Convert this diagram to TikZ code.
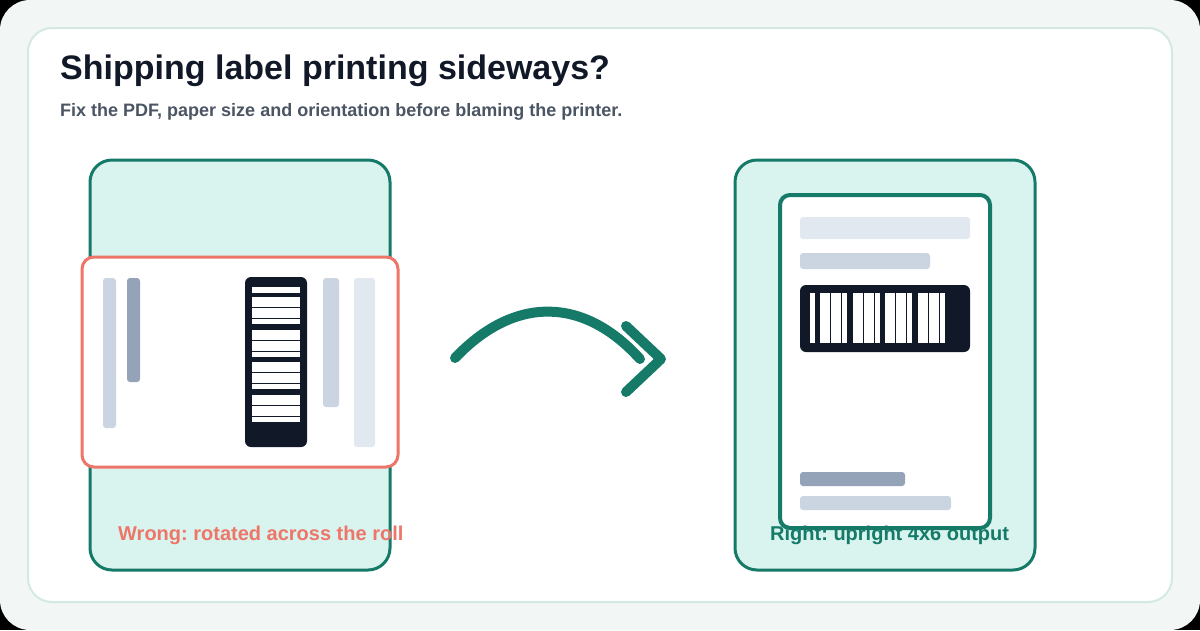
\documentclass[tikz,border=0pt]{standalone}
\usepackage{fontspec}
\setmainfont{Liberation Sans}
\usepackage{tikz}
\usetikzlibrary{positioning}
\frenchspacing

\definecolor{tealdk}{HTML}{167A69}
\definecolor{mintbg}{HTML}{D9F3EE}
\definecolor{wrongred}{HTML}{EE7668}
\definecolor{ink}{HTML}{111827}
\definecolor{slatea}{HTML}{E2E8F0}
\definecolor{slateb}{HTML}{CBD5E1}
\definecolor{slatec}{HTML}{94A3B8}
\definecolor{subgray}{HTML}{4B5563}
\definecolor{pagebg}{HTML}{F2F7F6}
\definecolor{cardline}{HTML}{D5E9E3}

\begin{document}
\begin{tikzpicture}[
  x=1pt, y=-1pt,
  lblbox/.style={anchor=north west, inner sep=0pt, outer sep=0pt, rounded corners=#1},
  panelbox/.style={lblbox=22pt, fill=mintbg, draw=tealdk, line width=3pt,
                minimum width=300, minimum height=410},
  linebar/.style={lblbox=3pt, fill=#1},
  stripefill/.style={fill=white},
  headtxt/.style={anchor=base west, inner sep=0pt},
  captxt/.style={anchor=base west, inner sep=0pt, font=\fontsize{20}{24}\selectfont\bfseries},
  arcline/.style={draw=tealdk, line width=10pt, line cap=round, line join=round},
]

%% ====================================================
%% Page and card
%% ====================================================
\fill[black] (0,0) rectangle (1200,630);
\fill[pagebg, rounded corners=30pt] (0,0) rectangle (1200,630);
\useasboundingbox (0,0) rectangle (1200,630);
\node[lblbox=24pt, fill=white, draw=cardline, line width=2pt,
      minimum width=1144, minimum height=574] (card) at (28,28) {};

\node[headtxt, text=ink, font=\fontsize{34}{40}\selectfont\bfseries]
  (title) at (60,79) {Shipping label printing sideways?};
\node[headtxt, text=subgray, font=\fontsize{18}{22}\selectfont\bfseries]
  (subtitle) at (60,116) {Fix the PDF, paper size and orientation before blaming the printer.};

%% ====================================================
%% Wrong: label rotated across the roll
%% ====================================================
\node[panelbox] (wrongpanel) at (90,160) {};
\node[lblbox=12pt, fill=white, draw=wrongred, line width=3pt,
      minimum width=316, minimum height=210] (wronglabel) at (82,257) {};

%% Text lines (now vertical)
\node[linebar=slateb, minimum width=13, minimum height=150] (wlineA) at (103,278) {};
\node[linebar=slatec, minimum width=13, minimum height=104] (wlineB) at (127,278) {};
\node[linebar=slateb, minimum width=16, minimum height=129] (wlineC) at (323,278) {};
\node[linebar=slatea, minimum width=21, minimum height=169] (wlineD) at (354,278) {};

%% Barcode (turned)
\node[lblbox=6pt, fill=ink, minimum width=62, minimum height=170] (wbarcode) at (245,277) {};
\fill[stripefill] (252,287) rectangle (300,293);
\foreach \g in {0,...,3} {
  \foreach \o/\w in {0/10,11/10,22/5} {
    \fill[stripefill] (252,{297+32.5*\g+\o}) rectangle (300,{297+32.5*\g+\o+\w});
  }
}

\node[captxt, text=wrongred] (wrongtxt) at (118,540) {Wrong: rotated across the roll};

%% ====================================================
%% Arrow
%% ====================================================
\coordinate (arcL) at (455,358);
\coordinate (arcR) at (640,359);
\coordinate (tipT) at (626,326);
\coordinate (tipM) at (661,359);
\coordinate (tipB) at (626,392);
\draw[arcline] (arcL) .. controls (516,294) and (585,298) .. (arcR);
\draw[arcline] (tipT) -- (tipM) -- (tipB);

%% ====================================================
%% Right: upright 4x6 output
%% ====================================================
\node[panelbox] (rightpanel) at (735,160) {};
\node[lblbox=10pt, fill=white, draw=tealdk, line width=4pt,
      minimum width=210, minimum height=333] (rightlabel) at (780,195) {};

\node[linebar=slatea, minimum width=170, minimum height=22] (rlineA) at (800,217) {};
\node[linebar=slateb, minimum width=130, minimum height=16] (rlineB) at (800,253) {};

%% Barcode (upright)
\node[lblbox=6pt, fill=ink, minimum width=170, minimum height=67] (rbarcode) at (800,285) {};
\fill[stripefill] (810,293) rectangle (815,343);
\foreach \g in {0,...,3} {
  \foreach \o/\w in {0/10,11/10,22/5} {
    \fill[stripefill] ({820+32.5*\g+\o},293) rectangle ({820+32.5*\g+\o+\w},343);
  }
}

\node[linebar=slatec, minimum width=105, minimum height=14] (rlineC) at (800,472) {};
\node[linebar=slateb, minimum width=151, minimum height=14] (rlineD) at (800,496) {};

\node[captxt, text=tealdk] (righttxt) at (770,540) {Right: upright 4x6 output};

\end{tikzpicture}
\end{document}
